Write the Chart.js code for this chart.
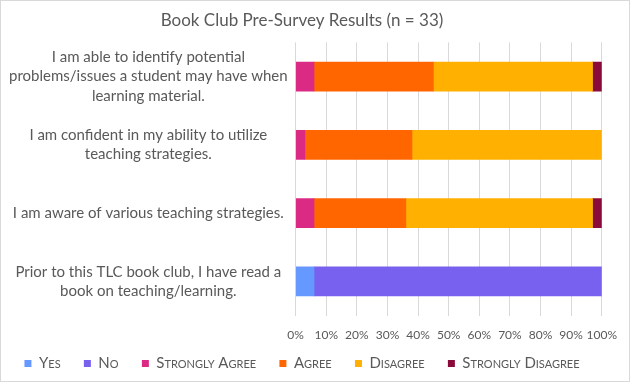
<!DOCTYPE html>
<html>
<head>
<meta charset="utf-8">
<script src="https://cdn.jsdelivr.net/npm/chart.js@4/dist/chart.umd.min.js"></script>
<style>
  html, body { margin: 0; padding: 0; background: #fff; }
  #wrap { position: absolute; left: 0; top: 0; width: 628px; height: 380px; border: 1px solid #d9d9d9; background: #fff; }
  canvas { display: block; }
</style>
</head>
<body>
<div id="wrap"><canvas id="c" width="628" height="380"></canvas></div>
<script>
const categories = [
  ["I am able to identify potential", "problems/issues a student may have when", "learning material."],
  ["I am confident in my ability to utilize", "teaching strategies."],
  ["I am aware of various teaching strategies."],
  ["Prior to this TLC book club, I have read a", "book on teaching/learning."]
];
const seriesNames = ["Yes", "No", "Strongly Agree", "Agree", "Disagree", "Strongly Disagree"];
const yesValues = [null, null, null, 6];
const noValues = [null, null, null, 94];
const stronglyAgreeValues = [6, 3, 6, null];
const agreeValues = [39, 35, 30, null];
const disagreeValues = [52, 62, 61, null];
const stronglyDisagreeValues = [3, null, 3, null];
const xTickLabels = ["0%", "10%", "20%", "30%", "40%", "50%", "60%", "70%", "80%", "90%", "100%"];
const seriesColors = ["#6699FF", "#7861EE", "#DB2A84", "#FF6600", "#FFB000", "#8A0A39"];

const seriesValues = [yesValues, noValues, stronglyAgreeValues, agreeValues, disagreeValues, stronglyDisagreeValues];
const FONT = "Lato, 'Noto Sans', sans-serif";
const TXT = "#595959";
const LEGEND_GAP = "\u2003\u2002\u2006";

new Chart(document.getElementById("c"), {
  type: "bar",
  data: {
    labels: categories,
    datasets: seriesNames.map((n, i) => ({
      label: n,
      data: seriesValues[i],
      backgroundColor: seriesColors[i],
      borderWidth: 0,
      barThickness: 29
    }))
  },
  options: {
    indexAxis: "y",
    responsive: false,
    animation: false,
    layout: { padding: { left: 0, right: 26, top: 6, bottom: 0 } },
    plugins: {
      title: {
        display: true,
        text: "Book Club Pre-Survey Results (n = 33)",
        color: TXT,
        font: { family: FONT, size: 17, weight: "normal" },
        padding: { top: 3, bottom: 12 }
      },
      legend: {
        position: "bottom",
        labels: {
          color: TXT,
          boxWidth: 7,
          boxHeight: 7,
          padding: 2,
          font: { family: FONT, size: 15, weight: "small-caps" },
          generateLabels: (chart) => Chart.defaults.plugins.legend.labels.generateLabels(chart)
            .map((l, i, a) => Object.assign(l, { text: i < a.length - 1 ? l.text + LEGEND_GAP : l.text }))
        }
      },
      tooltip: { enabled: false }
    },
    scales: {
      x: {
        stacked: true,
        min: 0,
        max: 100,
        border: { display: false },
        grid: { color: "#d9d9d9", drawTicks: false },
        ticks: {
          stepSize: 10,
          color: TXT,
          padding: 12,
          maxRotation: 0,
          minRotation: 0,
          autoSkip: false,
          font: { family: FONT, size: 12 },
          callback: (v, i) => xTickLabels[i]
        }
      },
      y: {
        stacked: true,
        border: { display: false },
        grid: { display: false, drawTicks: false },
        ticks: {
          color: TXT,
          crossAlign: "center",
          padding: 8,
          autoSkip: false,
          font: { family: FONT, size: 15, lineHeight: 1.3 }
        }
      }
    }
  }
});
</script>
</body>
</html>
